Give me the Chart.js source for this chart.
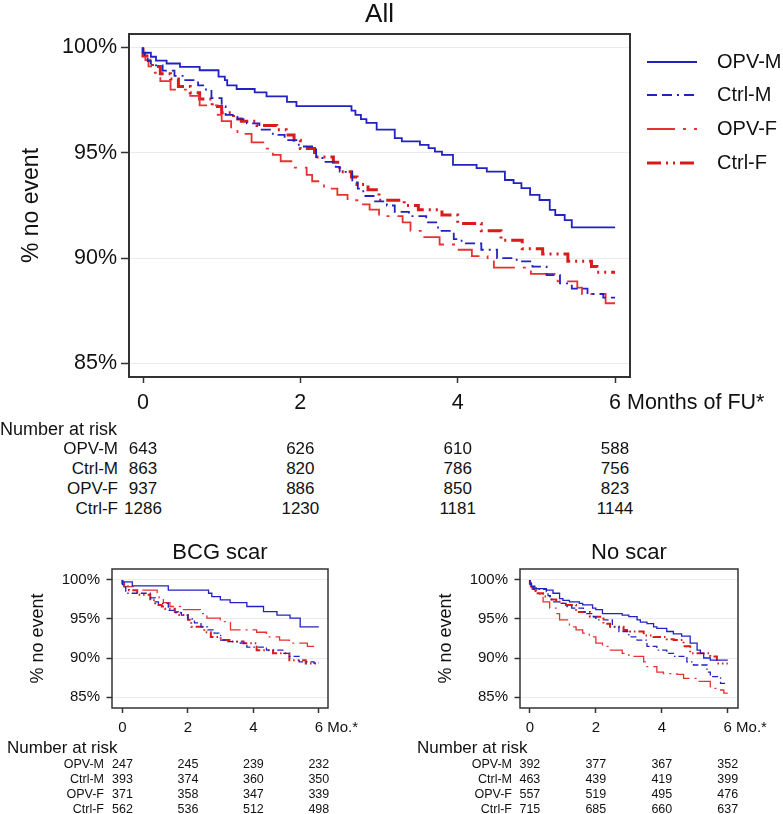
<!DOCTYPE html>
<html>
<head>
<meta charset="utf-8">
<script src="https://cdn.jsdelivr.net/npm/chart.js@4.4.1/dist/chart.umd.min.js"></script>
<style>
  html, body { margin: 0; padding: 0; background: #fff; }
  #page { position: relative; width: 783px; height: 814px; overflow: hidden;
          font-family: 'Liberation Sans', Arial, Helvetica, sans-serif; color: #111; }
  canvas { position: absolute; }
  .txt { position: absolute; white-space: nowrap; }
</style>
</head>
<body>
<div id="page">
  <canvas id="allChart" width="783" height="420" style="left:0;top:0"></canvas>
  <canvas id="bcgChart" width="408" height="210" style="left:0;top:530px"></canvas>
  <canvas id="noChart" width="375" height="210" style="left:408px;top:530px"></canvas>
</div>
<script>
// groups and ticks
const seriesNames = ['OPV-M', 'Ctrl-M', 'OPV-F', 'Ctrl-F'];
const xTicks = [0, 2, 4, 6];
const yTicks = [85, 90, 95, 100];

// Kaplan-Meier steps, [months, % no event]
// All
const allOpvM = [[0,100],[0.10,99.75],[0.165,99.56],[0.30,99.38],[0.47,99.24],[0.72,99.08],[0.96,98.92],[1.04,98.62],[1.07,98.45],[1.19,98.2],[1.42,98.03],[1.57,97.87],[1.83,97.68],[1.95,97.42],[2.65,97.22],[2.70,97.0],[2.77,96.8],[2.84,96.6],[2.97,96.42],[3.2,96.1],[3.29,95.7],[3.52,95.54],[3.63,95.38],[3.71,95.22],[3.80,95.06],[3.94,94.9],[4.24,94.43],[4.37,94.27],[4.60,94.11],[4.71,93.71],[4.81,93.56],[4.92,93.32],[5.04,93.0],[5.17,92.76],[5.24,92.29],[5.36,92.05],[5.45,91.81],[5.66,91.46],[6.0,91.46]];
const allCtrlM = [[0,100],[0.02,99.75],[0.06,99.55],[0.1,99.35],[0.25,99.15],[0.40,98.9],[0.52,98.65],[0.70,98.45],[0.80,98.2],[0.87,98.0],[1.0,97.6],[1.05,97.2],[1.2,96.8],[1.32,96.6],[1.48,96.4],[1.65,96.1],[1.80,95.85],[1.98,95.6],[2.2,95.3],[2.28,94.8],[2.45,94.57],[2.5,94.33],[2.66,94.1],[2.73,93.6],[2.8,93.3],[2.95,92.95],[3.1,92.7],[3.2,92.5],[3.38,92.2],[3.6,92.0],[3.75,91.7],[3.95,91.3],[4.05,90.9],[4.3,90.7],[4.5,90.4],[4.75,90.0],[4.95,89.85],[5.13,89.6],[5.3,89.2],[5.45,88.8],[5.65,88.55],[5.85,88.3],[5.95,88.13],[6.0,88.13]];
const allOpvF = [[0,100],[0.03,99.7],[0.07,99.4],[0.15,99.1],[0.22,98.8],[0.35,98.4],[0.6,98.0],[0.72,97.7],[0.95,97.25],[1.0,96.8],[1.12,96.5],[1.2,96.1],[1.38,95.9],[1.55,95.5],[1.65,95.2],[1.75,94.9],[1.9,94.6],[2.08,94.3],[2.15,93.95],[2.3,93.65],[2.47,93.3],[2.6,93.0],[2.75,92.75],[2.88,92.55],[3.0,92.3],[3.3,92.0],[3.4,91.7],[3.55,91.3],[3.77,91.0],[3.99,90.65],[4.18,90.4],[4.38,90.1],[4.46,89.9],[4.93,89.55],[5.27,89.25],[5.52,88.9],[5.58,88.6],[5.88,88.3],[5.95,87.86],[6.0,87.86]];
const allCtrlF = [[0,100],[0.05,99.6],[0.12,99.4],[0.22,99.1],[0.35,98.75],[0.45,98.5],[0.6,98.15],[0.72,97.85],[0.88,97.55],[1.0,97.2],[1.15,96.9],[1.25,96.6],[1.45,96.5],[1.7,96.3],[1.82,96.1],[1.92,95.85],[2.0,95.6],[2.18,95.2],[2.42,94.8],[2.5,94.55],[2.65,94.1],[2.72,93.85],[2.86,93.5],[3.0,93.25],[3.32,92.75],[3.5,92.5],[3.8,92.3],[4.0,92.05],[4.3,91.65],[4.55,91.3],[4.82,90.85],[5.08,90.45],[5.4,90.2],[5.7,89.85],[5.77,89.6],[5.95,89.33],[6.0,89.33]];
// BCG scar
const bcgOpvM = [[0,100],[0.3,99.75],[1.4,99.25],[2.63,98.7],[2.73,98.3],[2.99,97.86],[3.29,97.44],[3.8,97.1],[4.31,96.6],[4.72,95.94],[5.12,95.5],[5.43,95.1],[5.58,94.0],[6,94.0]];
const bcgCtrlM = [[0,100],[0.03,99.4],[0.1,99.1],[0.85,98.3],[1.0,97.7],[1.1,97.2],[1.4,97.0],[1.57,96.1],[1.8,95.8],[2.0,95.5],[2.2,95.0],[2.4,94.5],[2.6,94.0],[2.8,93.6],[3.0,93.2],[3.2,92.3],[3.6,92.1],[3.8,91.9],[4.4,91.4],[4.9,91.0],[5.1,90.6],[5.4,90.2],[5.85,89.5],[5.95,89.36],[6,89.36]];
const bcgOpvF = [[0,100],[0.05,99.5],[0.35,99.15],[1.06,98.7],[1.12,98.1],[1.25,97.7],[1.45,97.1],[1.77,96.6],[2.38,96.2],[2.58,95.7],[2.99,95.1],[3.05,94.9],[3.3,94.66],[4.1,93.6],[4.4,93.3],[4.8,92.7],[5.1,92.3],[5.65,91.9],[5.95,91.5],[6,91.5]];
const bcgCtrlF = [[0,100],[0.05,99.6],[0.2,99.2],[0.45,98.7],[0.85,98.1],[1.0,97.4],[1.2,96.8],[1.3,96.6],[1.6,96.3],[1.7,95.9],[2.0,95.5],[2.1,94.9],[2.5,94.0],[2.7,93.3],[3.0,92.7],[3.3,92.3],[3.7,92.1],[4.1,91.9],[4.6,91.0],[5.1,90.6],[5.6,89.7],[5.9,89.3],[6,89.3]];
// No scar
const noOpvM = [[0,100],[0.05,99.5],[0.15,99.2],[0.5,98.9],[0.7,98.7],[0.9,98.3],[1.0,97.6],[1.2,97.4],[1.5,97.2],[1.6,97.0],[1.9,96.8],[2.0,96.4],[2.2,96.2],[2.8,95.7],[3.0,95.5],[3.25,95.3],[3.35,94.9],[3.55,94.6],[3.75,94.4],[3.85,94.0],[4.15,93.8],[4.35,93.4],[4.6,93.1],[4.86,92.8],[5.07,91.9],[5.17,91.0],[5.27,90.6],[5.47,90.0],[5.57,89.74],[6,89.74]];
const noCtrlM = [[0,100],[0.03,99.5],[0.1,99.1],[0.5,98.8],[0.55,98.5],[0.62,98.0],[0.7,97.5],[0.9,97.2],[1.1,97.0],[1.27,96.6],[1.62,96.4],[1.72,95.9],[1.92,95.7],[2.0,95.3],[2.5,94.9],[2.7,94.0],[3.0,93.4],[3.25,92.7],[3.55,92.3],[3.85,91.5],[4.15,91.0],[4.35,90.6],[4.76,90.2],[4.96,89.5],[5.37,89.1],[5.47,88.2],[5.78,87.6],[5.88,86.75],[6,86.75]];
const noOpvF = [[0,100],[0.03,99.4],[0.06,99.1],[0.2,99.0],[0.4,98.2],[0.6,97.2],[0.8,96.4],[0.9,95.7],[1.2,94.9],[1.4,94.0],[1.6,93.6],[1.8,93.2],[2.0,92.7],[2.2,91.9],[2.4,91.5],[2.8,91.0],[3.0,90.6],[3.45,90.2],[3.55,89.5],[3.85,88.9],[4.05,88.2],[4.46,88.0],[4.66,87.9],[5.07,87.4],[5.47,87.0],[5.67,86.1],[5.88,85.9],[5.98,85.5],[6,85.5]];
const noCtrlF = [[0,100],[0.03,99.6],[0.08,98.9],[0.2,98.6],[0.4,98.3],[0.6,97.9],[0.8,97.5],[1.0,97.2],[1.4,96.8],[1.82,95.9],[2.23,95.3],[2.43,94.4],[2.84,94.0],[3.04,93.6],[3.45,93.4],[3.75,92.9],[4.15,92.7],[4.36,92.4],[4.66,92.3],[4.86,91.5],[5.47,90.6],[5.67,90.2],[5.78,89.3],[6,89.3]];

// number at risk, rows in seriesNames order, columns at xTicks
const riskAll = [[643,626,610,588],[863,820,786,756],[937,886,850,823],[1286,1230,1181,1144]];
const riskBcg = [[247,245,239,232],[393,374,360,350],[371,358,347,339],[562,536,512,498]];
const riskNo  = [[392,377,367,352],[463,439,419,399],[557,519,495,476],[715,685,660,637]];

// line styles
const seriesColors = ['#2222c4', '#2222c4', '#e83131', '#d81b1b'];
const bigWidths = [1.8, 1.8, 1.8, 3];
const bigDash = [[], [10,5,10,5,2,5], [28,8,3,8], [14,5,2,5,2,5]];
const smallWidths = [1.3, 1.3, 1.3, 2];
const smallDash = [[], [6,3,6,3,1.5,3], [18,5,2,5], [8,3,1.5,3,1.5,3]];

const FONT = "'Liberation Sans', Arial, Helvetica, sans-serif";
Chart.defaults.font.family = FONT;
Chart.defaults.color = '#111';

const page = document.getElementById('page');

function makeDatasets(series, widths, dashes) {
  return series.map((pts, i) => ({
    label: seriesNames[i],
    data: pts.map(p => ({ x: p[0], y: p[1] })),
    borderColor: seriesColors[i],
    borderWidth: widths[i],
    borderDash: dashes[i],
    borderCapStyle: 'butt',
    stepped: 'after',
    pointRadius: 0,
    fill: false
  }));
}

// frame, title, axis suffix and (main only) legend
const kmText = {
  id: 'kmText',
  afterDatasetsDraw(chart, args, o) {
    const { ctx, chartArea: a } = chart;
    ctx.save();
    ctx.strokeStyle = '#333';
    ctx.lineWidth = o.frame;
    ctx.strokeRect(a.left, a.top, a.right - a.left, a.bottom - a.top);
    ctx.restore();
  },
  afterDraw(chart, args, o) {
    const { ctx, chartArea: a } = chart;
    ctx.save();
    ctx.fillStyle = '#111';
    ctx.textBaseline = 'middle';
    ctx.font = o.titleSize + 'px ' + FONT;
    ctx.textAlign = 'center';
    ctx.fillText(o.title, (a.left + a.right) / 2, o.titleY);

    // text after the last x tick label
    const xs = chart.scales.x;
    const xo = xs.options;
    const last = xTicks[xTicks.length - 1];
    ctx.font = xo.ticks.font.size + 'px ' + FONT;
    const w = ctx.measureText(String(last)).width;
    ctx.textAlign = 'left';
    const ly = xs.top + xo.grid.tickLength + xo.ticks.padding + xo.ticks.font.size * 1.2 / 2;
    ctx.fillText(o.suffix, xs.getPixelForValue(last) + w / 2, ly);

    if (o.legend) {
      const lg = o.legend;
      chart.data.datasets.forEach((ds, i) => {
        const y = lg.y[i];
        ctx.beginPath();
        ctx.setLineDash(ds.borderDash);
        ctx.lineDashOffset = 0;
        ctx.lineWidth = ds.borderWidth;
        ctx.strokeStyle = ds.borderColor;
        ctx.moveTo(lg.x0, y);
        ctx.lineTo(lg.x1, y);
        ctx.stroke();
        ctx.setLineDash([]);
        ctx.font = lg.size + 'px ' + FONT;
        ctx.fillStyle = '#111';
        ctx.fillText(ds.label, lg.tx, y);
      });
    }
    ctx.restore();
  }
};

function makeKM(id, series, c) {
  return new Chart(document.getElementById(id), {
    type: 'line',
    data: { datasets: makeDatasets(series, c.widths, c.dash) },
    plugins: [kmText],
    options: {
      responsive: false,
      animation: false,
      events: [],
      layout: { padding: c.padding },
      plugins: {
        legend: { display: false },
        tooltip: { enabled: false },
        kmText: { frame: c.frame, title: c.title, titleY: c.titleY, titleSize: c.titleSize,
                  suffix: c.suffix, legend: c.legend || null }
      },
      scales: {
        x: {
          type: 'linear', min: c.xMin, max: c.xMax,
          afterBuildTicks: s => { s.ticks = xTicks.map(v => ({ value: v })); },
          afterFit: s => { s.height = c.xHeight; },
          ticks: { callback: v => String(v), font: { size: c.tickSize }, color: '#111',
                   padding: c.xPad, maxRotation: 0, autoSkip: false },
          grid: { drawOnChartArea: false, drawTicks: true, tickColor: '#333',
                  tickLength: c.xTickLen, tickWidth: 1.5 },
          border: { display: false }
        },
        y: {
          type: 'linear', min: c.yMin, max: c.yMax,
          afterBuildTicks: s => { s.ticks = yTicks.map(v => ({ value: v })); },
          afterFit: s => { s.width = c.yWidth; },
          ticks: { callback: v => v + '%', font: { size: c.tickSize }, color: '#111', padding: c.yPad },
          grid: { color: '#ebebeb', lineWidth: 1, drawTicks: true, tickColor: '#333',
                  tickLength: c.yTickLen, tickWidth: 1.5 },
          border: { display: false },
          title: { display: true, text: '% no event', color: '#111',
                   font: { size: c.axisTitleSize }, padding: { top: c.axisTitlePad, bottom: 0 } }
        }
      }
    }
  });
}

function addText(text, x, y, size, align) {
  const d = document.createElement('div');
  const lh = Math.round(size * 1.2);
  d.className = 'txt';
  d.textContent = text;
  d.style.fontSize = size + 'px';
  d.style.lineHeight = lh + 'px';
  d.style.left = x + 'px';
  d.style.top = (y - lh / 2) + 'px';
  if (align === 'center') d.style.transform = 'translateX(-50%)';
  if (align === 'right') d.style.transform = 'translateX(-100%)';
  page.appendChild(d);
}

function addRiskTable(chart, offX, counts, t) {
  addText('Number at risk', t.headX, t.headY, t.headSize, 'left');
  const xs = chart.scales.x;
  seriesNames.forEach((name, i) => {
    const y = t.rowY + i * t.rowGap;
    addText(name, t.labelX, y, t.size, 'right');
    counts[i].forEach((n, j) => {
      addText(String(n), offX + xs.getPixelForValue(xTicks[j]), y, t.size, 'center');
    });
  });
}

const allChart = makeKM('allChart', [allOpvM, allCtrlM, allOpvF, allCtrlF], {
  widths: bigWidths, dash: bigDash, frame: 2,
  padding: { top: 34, left: 0, right: 153, bottom: 0 },
  xMin: -0.178, xMax: 6.19, yMin: 84.36, yMax: 100.64,
  xHeight: 43, yWidth: 129, tickSize: 21.5, xPad: 7, yPad: 4, xTickLen: 6, yTickLen: 8,
  axisTitleSize: 23, axisTitlePad: 18,
  title: 'All', titleY: 15, titleSize: 26, suffix: ' Months of FU*',
  legend: { x0: 647, x1: 697, tx: 717, size: 20, y: [62, 95, 129, 163] }
});

const subCfg = {
  widths: smallWidths, dash: smallDash, frame: 1.5,
  yMin: 83.59, yMax: 101.41,
  xHeight: 32, yWidth: 112, tickSize: 15, xPad: 6, yPad: 6.5, xTickLen: 5, yTickLen: 5.5,
  axisTitleSize: 18, axisTitlePad: 27,
  titleY: 23, titleSize: 22, suffix: ' Mo.*'
};

const bcgChart = makeKM('bcgChart', [bcgOpvM, bcgCtrlM, bcgOpvF, bcgCtrlF], Object.assign({}, subCfg, {
  padding: { top: 39, left: 0, right: 80, bottom: 0 },
  xMin: -0.32, xMax: 6.28, title: 'BCG scar'
}));

const noChart = makeKM('noChart', [noOpvM, noCtrlM, noOpvF, noCtrlF], Object.assign({}, subCfg, {
  padding: { top: 39, left: 0, right: 45, bottom: 0 },
  xMin: -0.30, xMax: 6.31, title: 'No scar'
}));

addRiskTable(allChart, 0, riskAll,
  { headX: 0, headY: 429, headSize: 18, labelX: 118, rowY: 449, rowGap: 20, size: 17 });
addRiskTable(bcgChart, 0, riskBcg,
  { headX: 7, headY: 748, headSize: 17, labelX: 104, rowY: 764, rowGap: 15, size: 12.5 });
addRiskTable(noChart, 408, riskNo,
  { headX: 417, headY: 748, headSize: 17, labelX: 512, rowY: 764, rowGap: 15, size: 12.5 });
</script>
</body>
</html>
